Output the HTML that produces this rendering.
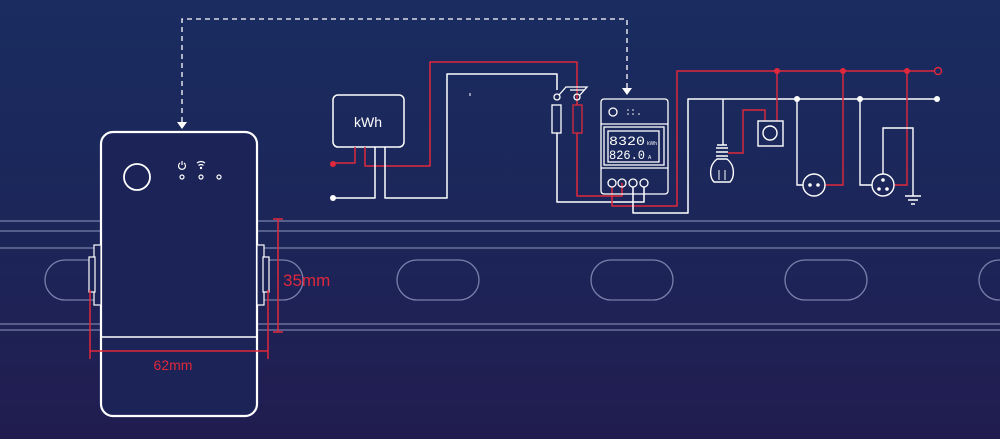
<!DOCTYPE html>
<html><head><meta charset="utf-8"><style>
html,body{margin:0;padding:0;width:1000px;height:439px;overflow:hidden}
body{background:linear-gradient(180deg,#1a2c60 0%,#1c2558 55%,#211c50 100%)}
svg{display:block}
</style></head><body>
<svg width="1000" height="439" viewBox="0 0 1000 439" xmlns="http://www.w3.org/2000/svg" font-family="Liberation Sans, sans-serif">
<g stroke="#8f97c0" stroke-width="1.3" fill="none" opacity="0.8">
<line x1="0" y1="221" x2="1000" y2="221"/>
<line x1="0" y1="231" x2="1000" y2="231"/>
<line x1="0" y1="248" x2="1000" y2="248"/>
<line x1="0" y1="324" x2="1000" y2="324"/>
<line x1="0" y1="330" x2="1000" y2="330"/>
<rect x="45" y="260" width="258" height="40" rx="20"/>
<rect x="397" y="260" width="82" height="40" rx="20"/>
<rect x="591" y="260" width="82" height="40" rx="20"/>
<rect x="785" y="260" width="82" height="40" rx="20"/>
<rect x="979" y="260" width="82" height="40" rx="20"/>
</g>
<!-- device -->
<rect x="101" y="132" width="156" height="284" rx="12" fill="#1b2357" stroke="#fff" stroke-width="2.2"/>
<line x1="101" y1="337" x2="257" y2="337" stroke="#fff" stroke-width="1.5"/>
<circle cx="137" cy="177" r="13" fill="none" stroke="#fff" stroke-width="1.8"/>
<g fill="none" stroke="#fff" stroke-width="1.2">
<circle cx="182" cy="177" r="2"/><circle cx="201" cy="177" r="2"/><circle cx="219" cy="177" r="2"/>
<path d="M180 163 a3.5 3.5 0 1 0 4 0"/><line x1="182" y1="161" x2="182" y2="165"/>
<path d="M197 163 q4 -3 8 0 M198.5 165.5 q2.5 -2 5 0"/><circle cx="201" cy="168" r="0.6"/>
</g>
<g fill="#1b2357" stroke="#fff" stroke-width="1.2">
<rect x="94" y="245" width="7" height="60"/><rect x="89" y="257" width="6" height="35"/>
<rect x="257" y="245" width="7" height="60"/><rect x="263" y="257" width="6" height="35"/>
</g>
<!-- dimensions -->
<g stroke="#e0283c" stroke-width="1.5" fill="none">
<line x1="278" y1="219" x2="278" y2="332"/><line x1="273" y1="219" x2="283" y2="219"/><line x1="273" y1="332" x2="283" y2="332"/>
<line x1="90" y1="351" x2="268" y2="351"/><line x1="90" y1="290" x2="90" y2="359"/><line x1="268" y1="290" x2="268" y2="359"/>
</g>
<text x="283" y="286" fill="#e0283c" font-size="17">35mm</text>
<text x="173" y="370" fill="#e0283c" font-size="14" text-anchor="middle">62mm</text>
<!-- dashed -->
<path d="M182 122 V19 H627 V88" fill="none" stroke="#fff" stroke-width="1.3" stroke-dasharray="5,4"/>
<path d="M177 122 L187 122 L182 129 Z M622 88 L632 88 L627 95 Z" fill="#fff"/>
<!-- kWh -->
<rect x="333" y="95" width="71" height="52" rx="5" fill="none" stroke="#fff" stroke-width="1.5"/>
<text x="368" y="127" fill="#fff" font-size="14" text-anchor="middle">kWh</text>
<g fill="none" stroke-width="1.5" stroke-linejoin="round">
<path d="M355 147 V163 H333" stroke="#e0283c"/>
<path d="M365 147 V166 H430 V62 H577 V105" stroke="#e0283c"/>
<path d="M577 133 V196 H622 V183" stroke="#e0283c"/>
<path d="M375 147 V198 H333" stroke="#fff"/>
<path d="M385 147 V198 H447 V74 H557 V90" stroke="#fff"/>
<path d="M557 133 V202 H644 V187" stroke="#fff"/>
<path d="M612 187 V206 H677 V71 H934" stroke="#e0283c"/>
<path d="M633 187 V213 H688 V99 H937" stroke="#fff"/>
</g>
<circle cx="333" cy="164" r="3" fill="#e0283c"/><circle cx="333" cy="198" r="3" fill="#fff"/>
<line x1="470" y1="93" x2="470" y2="96" stroke="#fff"/>
<!-- switch -->
<g fill="none" stroke="#fff" stroke-width="1.3">
<circle cx="557" cy="97" r="3"/><circle cx="577" cy="97" r="3"/>
<path d="M559 95 L566 87 H587 L580 95"/><line x1="570" y1="90" x2="584" y2="90"/>
<rect x="552" y="105" width="9" height="28"/>
</g>
<rect x="573" y="105" width="9" height="28" fill="none" stroke="#e0283c" stroke-width="1.3"/>
<!-- module -->
<g fill="none" stroke="#fff" stroke-width="1.3">
<rect x="601" y="99" width="67" height="95" rx="3"/>
<circle cx="613" cy="112" r="4"/>
<line x1="601" y1="124" x2="668" y2="124"/><line x1="601" y1="168" x2="668" y2="168"/>
<rect x="604" y="127" width="60" height="38"/>
<rect x="608" y="131" width="51" height="31"/>
<circle cx="612" cy="183" r="4"/><circle cx="622" cy="183" r="4"/><circle cx="633" cy="183" r="4"/><circle cx="644" cy="183" r="4"/>
</g>
<g fill="#fff"><circle cx="628" cy="110" r="0.8"/><circle cx="633" cy="110" r="0.8"/><circle cx="628" cy="114" r="0.8"/><circle cx="633" cy="114" r="0.8"/><circle cx="639" cy="114" r="0.8"/></g>
<text x="609" y="145" fill="#fff" font-size="13" font-family="Liberation Mono, monospace" textLength="36" lengthAdjust="spacingAndGlyphs">8320</text>
<text x="609" y="159" fill="#fff" font-size="13" font-family="Liberation Mono, monospace" textLength="36" lengthAdjust="spacingAndGlyphs">826.0</text>
<text x="647" y="145" fill="#fff" font-size="5">kWh</text>
<text x="648" y="159" fill="#fff" font-size="5">A</text>
<!-- right loads -->
<g fill="none" stroke-width="1.4">
<path d="M777 71 V121" stroke="#e0283c"/>
<path d="M728 153 H743 V110 H765 V121" stroke="#e0283c"/>
<path d="M843 71 V185 H825" stroke="#e0283c"/>
<path d="M907 71 V185 H894" stroke="#e0283c"/>
<path d="M723 99 V145" stroke="#fff"/>
<path d="M797 99 V185 H803" stroke="#fff"/>
<path d="M860 99 V185 H872" stroke="#fff"/>
<path d="M883 174 V128 H913 V196" stroke="#fff"/>
<rect x="758" y="121" width="25" height="25" stroke="#fff"/>
<circle cx="770" cy="133" r="7" stroke="#fff"/>
<circle cx="814" cy="185" r="11" stroke="#fff"/>
<circle cx="883" cy="185" r="11" stroke="#fff"/>
<circle cx="938" cy="71" r="3.5" stroke="#e0283c"/>
<path d="M716 148 h12 M716 152 h12 M716 156 h12 M717 145 h10" stroke="#fff"/>
<path d="M717 159 C708 166 710 178 714 182 H730 C734 178 736 166 727 159 Z" stroke="#fff"/>
<path d="M719 170 V180 M725 170 V180" stroke="#fff" stroke-width="1"/>
<path d="M905 196 h16 M908 200 h10 M911 204 h4" stroke="#fff"/>
</g>
<g fill="#fff"><circle cx="810" cy="185" r="1.8"/><circle cx="818" cy="185" r="1.8"/>
<circle cx="883" cy="180" r="1.8"/><circle cx="879" cy="189" r="1.8"/><circle cx="887" cy="189" r="1.8"/>
<circle cx="797" cy="99" r="3"/><circle cx="860" cy="99" r="3"/><circle cx="937" cy="99" r="3"/></g>
<g fill="#e0283c"><circle cx="777" cy="71" r="3"/><circle cx="843" cy="71" r="3"/><circle cx="907" cy="71" r="3"/></g>
</svg>
</body></html>
